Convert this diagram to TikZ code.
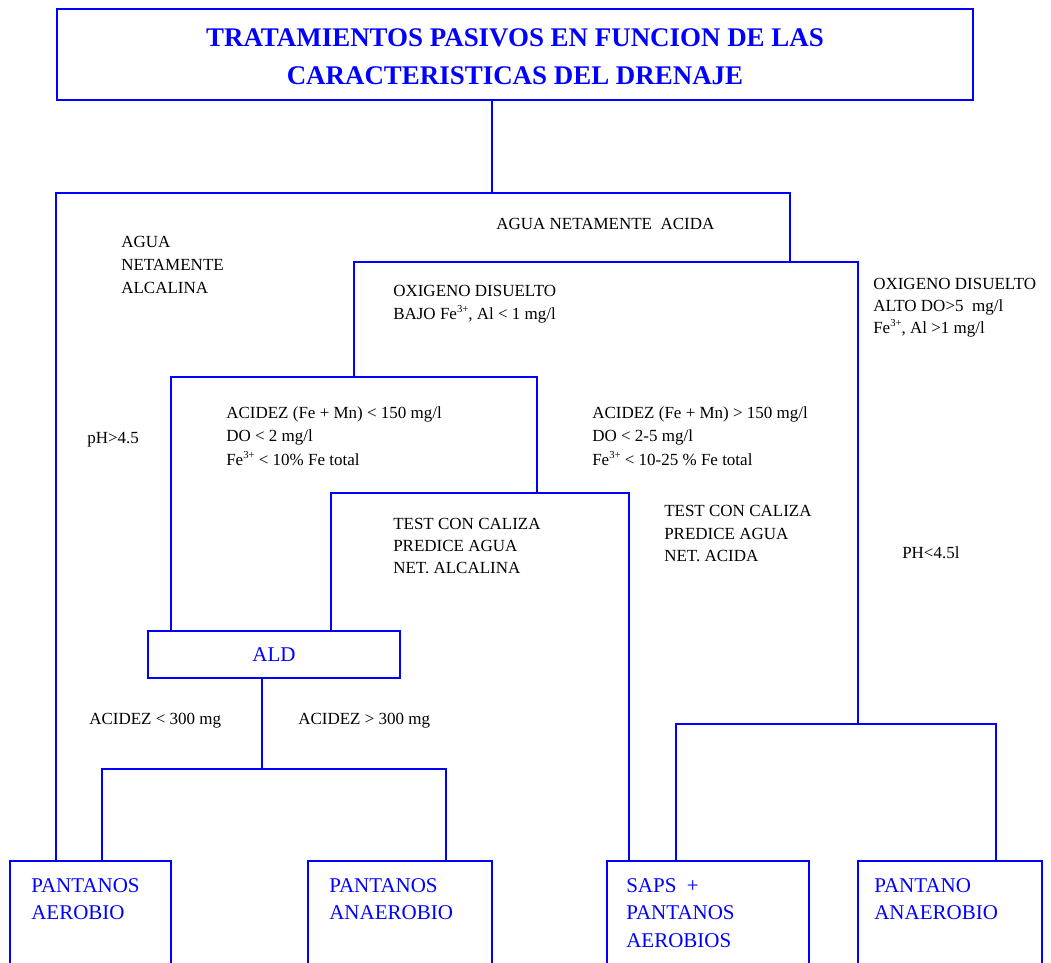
\documentclass[tikz,border=0pt]{standalone}
\usepackage{fontspec}
\setmainfont{Liberation Serif}
\newcommand{\supx}[1]{\raisebox{0.42em}{\fontsize{8}{8}\selectfont #1}}
\begin{document}
\begin{tikzpicture}[x=0.75pt,y=-0.75pt,
  ln/.style={draw=blue, line width=1.6pt},
  bx/.style={draw=blue, line width=1.6pt, inner sep=0pt, outer sep=0pt},
  lbl/.style={anchor=base west, inner sep=0pt, font=\fontsize{12.75}{15}\selectfont, text=black},
  blbl/.style={anchor=base west, inner sep=0pt, font=\fontsize{15.75}{19}\selectfont, text=blue}]
\clip (0,0) rectangle (1051,963);
% boxes
\node[bx, minimum width=687pt, minimum height=68.25pt] (title) at (515,54.5) {};
\node[align=center, text=blue, inner sep=0pt,
  font=\fontsize{20.2}{28.5}\selectfont\bfseries] (ttl) at (515,57)
  {TRATAMIENTOS PASIVOS EN FUNCION DE LAS\\CARACTERISTICAS DEL DRENAJE};
\node[bx, minimum width=189pt, minimum height=35.25pt, text=blue,
  font=\fontsize{15.75}{19}\selectfont] (ald) at (274,654.5) {ALD};
\node[bx, anchor=north west, minimum width=120.75pt, minimum height=96pt] (b1) at (10,861) {};
\node[bx, anchor=north west, minimum width=138pt, minimum height=96pt] (b2) at (308,861) {};
\node[bx, anchor=north west, minimum width=151.5pt, minimum height=96pt] (b3) at (607,861) {};
\node[bx, anchor=north west, minimum width=138pt, minimum height=96pt] (b4) at (858,861) {};
% junction coordinates
\coordinate (s1) at (492,193);
\coordinate (h1l) at (56,193);
\coordinate (h1r) at (790,193);
\coordinate (h2a) at (790,262);
\coordinate (h2l) at (354,262);
\coordinate (h2r) at (858,262);
\coordinate (h3c) at (354,377);
\coordinate (h3l) at (171,377);
\coordinate (h3r) at (537,377);
\coordinate (h4c) at (537,493);
\coordinate (h4l) at (331,493);
\coordinate (h4r) at (629,493);
\coordinate (h5c) at (262,769);
\coordinate (h5l) at (102,769);
\coordinate (h5r) at (446,769);
\coordinate (h6c) at (858,724);
\coordinate (h6l) at (676,724);
\coordinate (h6r) at (996,724);
% connectors
\draw[ln] (title.south -| s1) -- (s1);
\draw[ln] (b1.north -| h1l) -- (h1l) -- (h1r) -- (h2a);
\draw[ln] (h3c) -- (h2l) -- (h2r) -- (h6c);
\draw[ln] (ald.north -| h3l) -- (h3l) -- (h3r) -- (h4c);
\draw[ln] (ald.north -| h4l) -- (h4l) -- (h4r) -- (b3.north -| h4r);
\draw[ln] (ald.south -| h5c) -- (h5c);
\draw[ln] (b1.north -| h5l) -- (h5l) -- (h5r) -- (b2.north -| h5r);
\draw[ln] (b3.north -| h6l) -- (h6l) -- (h6r) -- (b4.north -| h6r);
% black labels
\node[lbl] (t1) at (496,229.5) {AGUA NETAMENTE\ \ ACIDA};
\node[lbl] (t2a) at (121,247.5) {AGUA};
\node[lbl] (t2b) at (121,270.5) {NETAMENTE};
\node[lbl] (t2c) at (121,293.5) {ALCALINA};
\node[lbl] (t3a) at (393,296.5) {OXIGENO DISUELTO};
\node[lbl] (t3b) at (393,319.5) {BAJO Fe\supx{3+}, Al < 1 mg/l};
\node[lbl] (t4a) at (873,290) {OXIGENO DISUELTO};
\node[lbl] (t4b) at (873,312) {ALTO DO>5\ \ mg/l};
\node[lbl] (t4c) at (873,334) {Fe\supx{3+}, Al >1 mg/l};
\node[lbl] (t5a) at (226,418.5) {ACIDEZ (Fe + Mn) < 150 mg/l};
\node[lbl] (t5b) at (226,441.5) {DO < 2 mg/l};
\node[lbl] (t5c) at (226,465.5) {Fe\supx{3+} < 10\% Fe total};
\node[lbl] (t6) at (87,443.5) {pH>4.5};
\node[lbl] (t7a) at (592,418.5) {ACIDEZ (Fe + Mn) > 150 mg/l};
\node[lbl] (t7b) at (592,441.5) {DO < 2-5 mg/l};
\node[lbl] (t7c) at (592,465.5) {Fe\supx{3+} < 10-25 \% Fe total};
\node[lbl] (t8a) at (393,529.5) {TEST CON CALIZA};
\node[lbl] (t8b) at (393,551.5) {PREDICE AGUA};
\node[lbl] (t8c) at (393,573.5) {NET. ALCALINA};
\node[lbl] (t9a) at (664,516.5) {TEST CON CALIZA};
\node[lbl] (t9b) at (664,539.5) {PREDICE AGUA};
\node[lbl] (t9c) at (664,561.5) {NET. ACIDA};
\node[lbl] (t10) at (902,558.5) {PH<4.5l};
\node[lbl] (t11) at (89,724.5) {ACIDEZ < 300 mg};
\node[lbl] (t12) at (298,724.5) {ACIDEZ > 300 mg};
% blue labels in bottom boxes
\node[blbl] (p1a) at (31,892) {PANTANOS};
\node[blbl] (p1b) at (31,919.5) {AEROBIO};
\node[blbl] (p2a) at (329,892) {PANTANOS};
\node[blbl] (p2b) at (329,919.5) {ANAEROBIO};
\node[blbl] (p3a) at (626,892) {SAPS\ \ +};
\node[blbl] (p3b) at (626,919.5) {PANTANOS};
\node[blbl] (p3c) at (626,947) {AEROBIOS};
\node[blbl] (p4a) at (874,892) {PANTANO};
\node[blbl] (p4b) at (874,919.5) {ANAEROBIO};
\end{tikzpicture}
\end{document}
